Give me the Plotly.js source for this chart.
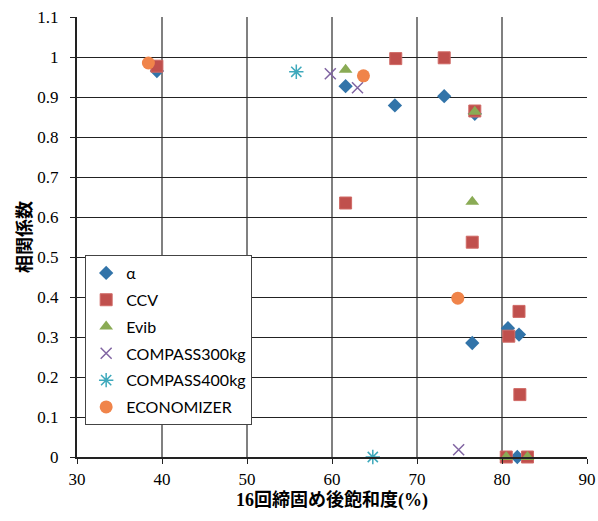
<!DOCTYPE html>
<html><head><meta charset="utf-8">
<script src="https://cdn.plot.ly/plotly-3.0.1.min.js"></script>
<style>html,body{margin:0;padding:0;background:#fff}#c{width:598px;height:521px}</style>
</head><body><div id="c"></div>
<script>
const seriesNames = ["α","CCV","Evib","COMPASS300kg","COMPASS400kg","ECONOMIZER"];
const alphaX = [39.4, 61.6, 67.4, 73.2, 76.8, 76.5, 80.7, 82.0, 81.8];
const alphaY = [0.965, 0.927, 0.879, 0.902, 0.858, 0.285, 0.322, 0.306, 0.0];
const ccvX = [39.4, 67.5, 73.2, 76.8, 61.6, 76.5, 82.0, 80.8, 82.1, 80.5, 83.0];
const ccvY = [0.977, 0.996, 0.998, 0.865, 0.635, 0.537, 0.364, 0.302, 0.156, 0.0, 0.0];
const evibX = [61.6, 76.8, 76.5, 80.5, 83.0];
const evibY = [0.968, 0.863, 0.638, 0.0, 0.0];
const c300X = [59.8, 63.0, 74.9];
const c300Y = [0.958, 0.923, 0.018];
const c400X = [55.8, 64.8];
const c400Y = [0.963, 0.0];
const ecoX = [38.4, 63.7, 74.8];
const ecoY = [0.985, 0.953, 0.397];

const colors = ["#3274A9","#C0504D","#8AAB55","#8064A2","#3EA9BC","#F0844A"];
function tr(i, x, y, marker){
  return {type:"scatter", mode:"markers", name:seriesNames[i], legendgroup:"g"+i, x:x, y:y, marker:marker, cliponaxis:false};
}
const data = [
  tr(0, alphaX, alphaY, {symbol:"diamond", size:11, color:colors[0]}),
  tr(1, ccvX, ccvY, {symbol:"square", size:12, color:colors[1], line:{color:"#D06A66", width:1}}),
  tr(2, evibX, evibY, {symbol:"triangle-up", size:12, color:colors[2]}),
  tr(3, c300X, c300Y, {symbol:"x-thin-open", size:11, color:colors[3], line:{color:colors[3], width:1.5}}),
  tr(4, c400X, c400Y, {symbol:"asterisk-open", size:12, color:colors[4], line:{color:colors[4], width:1.5}}),
  tr(5, ecoX, ecoY, {symbol:"circle", size:13, color:colors[5]})
];
const layout = {
  width:598, height:521,
  margin:{l:77, r:11, t:17, b:64},
  paper_bgcolor:"#fff", plot_bgcolor:"#fff",
  showlegend:true,
  legend:{x:0.016, y:0.459, xanchor:"left", yanchor:"top", bgcolor:"#fff",
    bordercolor:"#444", borderwidth:1, tracegroupgap:3, itemwidth:30,
    font:{family:"Lato, Liberation Sans", size:16, color:"#000"}},
  xaxis:{range:[30,90], dtick:10, tick0:30, showgrid:true, gridcolor:"#808080", gridwidth:1.5,
    zeroline:false, showline:true, linecolor:"#222", linewidth:2,
    ticks:"outside", ticklen:5, tickcolor:"#222", ticklabelstandoff:1,
    tickfont:{family:"Liberation Serif", size:17, color:"#000"},
    title:{text:"<b>16回締固め後飽和度(%)</b>", standoff:5,
      font:{family:"Liberation Serif, Noto Sans CJK JP", size:18, color:"#000"}}},
  yaxis:{range:[0,1.1], dtick:0.1, tick0:0, showgrid:true, gridcolor:"#222", gridwidth:1,
    zeroline:false, showline:true, linecolor:"#222", linewidth:2,
    ticks:"outside", ticklen:5, tickcolor:"#222", ticklabelstandoff:8,
    tickfont:{family:"Liberation Serif", size:17, color:"#000"},
    title:{text:"<b>相関係数</b>", standoff:1,
      font:{family:"Noto Sans CJK JP", size:18, color:"#000"}}}
};
Plotly.newPlot("c", data, layout, {displayModeBar:false, staticPlot:true});
</script></body></html>
